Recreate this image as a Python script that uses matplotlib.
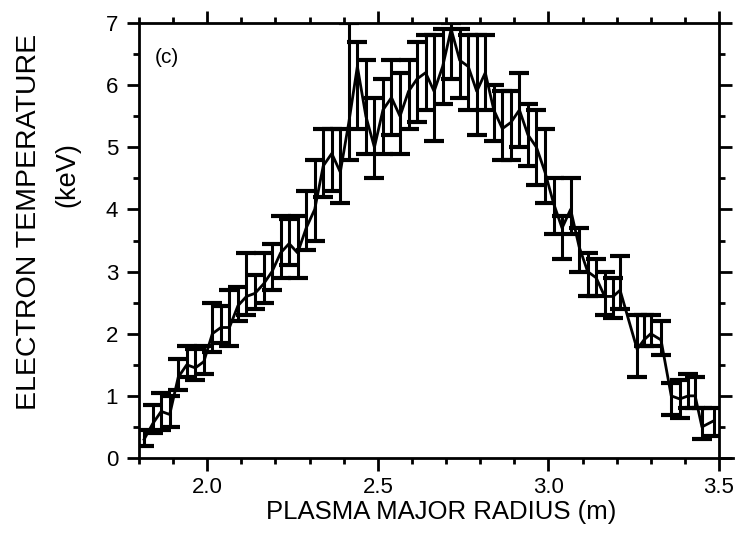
import matplotlib
matplotlib.use("Agg")
import matplotlib.pyplot as plt
from matplotlib.ticker import MultipleLocator

plt.rcParams['font.family'] = ['Liberation Sans', 'DejaVu Sans']

# radius (m)
radius = [1.815, 1.84, 1.865, 1.89, 1.915, 1.94, 1.965, 1.99, 2.015, 2.04,
          2.065, 2.09, 2.115, 2.14, 2.165, 2.19, 2.215, 2.24, 2.265, 2.29,
          2.315, 2.34, 2.365, 2.39, 2.415, 2.44, 2.465, 2.49, 2.515, 2.54,
          2.565, 2.59, 2.615, 2.64, 2.665, 2.69, 2.715, 2.74, 2.765, 2.79,
          2.815, 2.84, 2.865, 2.89, 2.915, 2.94, 2.965, 2.99, 3.015, 3.04,
          3.065, 3.09, 3.115, 3.14, 3.165, 3.19, 3.21, 3.26, 3.28, 3.30,
          3.33, 3.36, 3.385, 3.41, 3.43, 3.45, 3.485]
# electron temperature (keV)
te = [0.3, 0.55, 0.75, 0.7, 1.3, 1.5, 1.45, 1.55, 2.0, 2.1,
      2.1, 2.45, 2.6, 2.65, 2.8, 3.0, 3.3, 3.45, 3.3, 3.7,
      4.0, 4.7, 4.9, 4.6, 5.4, 6.3, 5.5, 5.0, 5.6, 5.8,
      5.5, 5.9, 6.1, 6.2, 5.9, 6.3, 6.9, 6.4, 6.3, 5.9,
      6.2, 5.6, 5.3, 5.4, 5.6, 5.2, 5.0, 4.6, 4.1, 3.7,
      4.0, 3.4, 3.0, 2.9, 2.6, 2.6, 2.7, 1.75, 1.9, 2.0,
      1.9, 1.0, 0.95, 1.0, 1.0, 0.5, 0.6]
err_lo = [0.1, 0.15, 0.3, 0.2, 0.2, 0.2, 0.2, 0.2, 0.3, 0.25,
          0.3, 0.25, 0.3, 0.25, 0.3, 0.3, 0.4, 0.35, 0.4, 0.35,
          0.5, 0.5, 0.6, 0.5, 0.6, 1.0, 0.6, 0.5, 0.7, 0.6,
          0.6, 0.6, 0.7, 0.6, 0.8, 0.6, 0.8, 0.6, 0.7, 0.7,
          0.6, 0.5, 0.5, 0.6, 0.6, 0.5, 0.6, 0.5, 0.5, 0.5,
          0.4, 0.4, 0.4, 0.3, 0.3, 0.35, 0.3, 0.45, 0.1, 0.2,
          0.25, 0.3, 0.3, 0.2, 0.2, 0.2, 0.25]
err_hi = [0.15, 0.3, 0.3, 0.3, 0.3, 0.3, 0.3, 0.25, 0.5, 0.35,
          0.6, 0.3, 0.7, 0.3, 0.5, 0.45, 0.6, 0.4, 0.6, 0.6,
          0.8, 0.6, 0.4, 0.7, 1.6, 0.4, 0.9, 0.8, 0.5, 0.6,
          0.7, 0.5, 0.6, 0.6, 0.9, 0.6, 0.1, 0.5, 0.5, 0.9,
          0.6, 0.4, 0.6, 0.5, 0.6, 0.5, 0.6, 0.7, 0.4, 0.2,
          0.5, 0.3, 0.3, 0.3, 0.4, 0.3, 0.55, 0.55, 0.4, 0.3,
          0.3, 0.2, 0.3, 0.35, 0.3, 0.3, 0.2]

fig = plt.figure(figsize=(7.5, 5.35), dpi=100)
ax = fig.add_axes([139 / 750, 77 / 535, 580 / 750, 435 / 535])

ax.errorbar(radius, te, yerr=[err_lo, err_hi], color='black', linewidth=2,
            elinewidth=2.2, capsize=7.5, capthick=3)

ax.set_xlim(1.8, 3.5)
ax.set_ylim(0, 7)
ax.xaxis.set_major_locator(MultipleLocator(0.5))
ax.xaxis.set_minor_locator(MultipleLocator(0.1))
ax.yaxis.set_major_locator(MultipleLocator(1))
ax.yaxis.set_minor_locator(MultipleLocator(0.5))
ax.set_xticks([2.0, 2.5, 3.0, 3.5])
ax.set_xticklabels(['2.0', '2.5', '3.0', '3.5'])

ax.tick_params(which='both', direction='out', top=True, right=True,
               width=2, labelsize=16, colors='black')
ax.tick_params(which='major', length=9)
ax.tick_params(which='minor', length=4.5)
ax.tick_params(axis='x', pad=5)
ax.tick_params(axis='y', pad=6)
for s in ax.spines.values():
    s.set_linewidth(2)
# bottom axis line runs a little past the right frame, as in the original
ax.spines['bottom'].set_bounds(1.8, 3.54)

fig.text(441 / 750, 1 - 512 / 535, 'PLASMA MAJOR RADIUS (m)', fontsize=18.5,
         ha='center', va='center')
fig.text(29 / 750, 1 - 222 / 535, 'ELECTRON TEMPERATURE', fontsize=20.5,
         rotation=90, ha='center', va='center')
fig.text(67 / 750, 1 - 175 / 535, '(keV)', fontsize=19.5,
         rotation=90, ha='center', va='center')
ax.text(1.847, 6.45, '(c)', fontsize=15, ha='left', va='center')

fig.savefig('out.png', dpi=100)
